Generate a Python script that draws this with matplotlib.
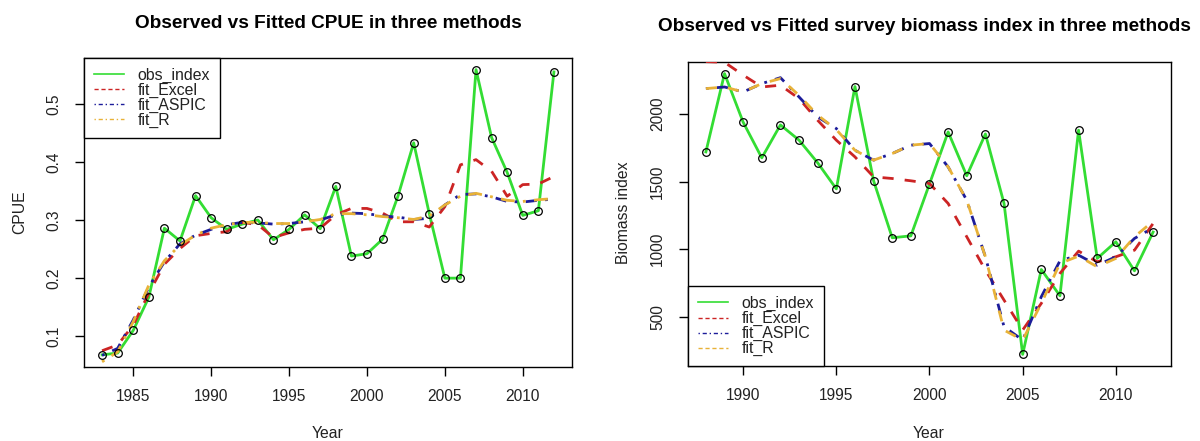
import matplotlib
matplotlib.use("Agg")
import matplotlib.pyplot as plt
from matplotlib.lines import Line2D

plt.rcParams['font.family'] = ['Liberation Sans', 'DejaVu Sans']

# ---- CPUE data (1983-2012)
cpue_years = list(range(1983, 2013))
cpue_obs = [0.068, 0.071, 0.110, 0.167, 0.286, 0.264, 0.342, 0.304, 0.284, 0.293,
            0.300, 0.266, 0.284, 0.309, 0.285, 0.358, 0.238, 0.242, 0.267, 0.342,
            0.433, 0.311, 0.200, 0.200, 0.559, 0.442, 0.382, 0.308, 0.316, 0.555]
cpue_excel = [0.075, 0.085, 0.119, 0.174, 0.224, 0.251, 0.273, 0.277, 0.280, 0.296,
              0.292, 0.270, 0.278, 0.284, 0.286, 0.309, 0.320, 0.320, 0.312, 0.297,
              0.297, 0.288, 0.323, 0.395, 0.404, 0.384, 0.341, 0.361, 0.362, 0.375]
cpue_aspic = [0.067, 0.079, 0.128, 0.185, 0.228, 0.259, 0.274, 0.284, 0.292, 0.296,
              0.295, 0.293, 0.294, 0.297, 0.300, 0.309, 0.312, 0.311, 0.307, 0.305,
              0.301, 0.303, 0.326, 0.344, 0.345, 0.340, 0.332, 0.331, 0.334, 0.336]
cpue_r = [0.056, 0.073, 0.125, 0.188, 0.230, 0.257, 0.274, 0.286, 0.292, 0.296,
          0.296, 0.294, 0.294, 0.297, 0.301, 0.311, 0.311, 0.309, 0.306, 0.304,
          0.301, 0.307, 0.326, 0.341, 0.346, 0.340, 0.334, 0.332, 0.335, 0.337]

# ---- Survey biomass index (1988-2012)
bio_years = list(range(1988, 2013))
bio_obs = [1721, 2301, 1941, 1677, 1921, 1808, 1640, 1447, 2205, 1507, 1085, 1099,
           1484, 1869, 1544, 1854, 1339, 221, 850, 655, 1882, 932, 1055, 840, 1127]
bio_excel = [2390, 2385, 2290, 2202, 2215, 2116, 1955, 1808, 1684, 1536, 1524, 1507,
             1487, 1339, 1092, 845, 623, 401, 599, 821, 986, 907, 944, 993, 1191]
bio_aspic = [2190, 2202, 2165, 2227, 2271, 2128, 1980, 1894, 1733, 1660, 1709, 1771,
             1783, 1610, 1363, 944, 426, 327, 648, 914, 956, 882, 944, 1080, 1159]
bio_r = [2190, 2202, 2165, 2227, 2264, 2140, 1993, 1886, 1733, 1660, 1709, 1771,
         1783, 1610, 1363, 944, 401, 327, 599, 895, 949, 870, 932, 1092, 1208]

labels = ["obs_index", "fit_Excel", "fit_ASPIC", "fit_R"]
GREEN = '#33dd33'
RED = '#cc2424'
BLUE = '#1c1c9a'
GOLD = '#e8b238'
TXT = '#222222'

W, H = 1200, 441
fig = plt.figure(figsize=(W / 100, H / 100), dpi=100)

def px_axes(x0, y0, x1, y1):
    return fig.add_axes([x0 / W, 1 - y1 / H, (x1 - x0) / W, (y1 - y0) / H])

ax1 = px_axes(84, 58, 572, 367)
ax2 = px_axes(688, 62, 1171, 366)

dashed = (0, (4, 4))
dotdash = (0, (1, 3, 4, 3))
lw = 2.0

def style_axes(ax):
    for s in ax.spines.values():
        s.set_color('black')
        s.set_linewidth(1.0)
    ax.tick_params(axis='both', direction='out', length=6.5, width=1.0,
                   colors='black', labelsize=11.2, labelcolor=TXT)
    ax.tick_params(axis='x', pad=9.5)
    ax.tick_params(axis='y', pad=10)
    for lab in ax.get_yticklabels():
        lab.set_rotation(90)
        lab.set_va('center')

def make_legend(ax, handles, loc, anchor):
    leg = ax.legend(handles, labels, loc=loc, bbox_to_anchor=anchor,
                    borderaxespad=0, fancybox=False, framealpha=1, edgecolor='black',
                    fontsize=11.4, handlelength=1.9, handletextpad=0.9,
                    labelspacing=0.0, borderpad=0.6)
    leg.get_frame().set_linewidth(1.0)
    for t in leg.get_texts():
        t.set_color(TXT)
    return leg

# ---- Left panel
ax1.plot(cpue_years, cpue_obs, color=GREEN, lw=lw, solid_joinstyle='round', zorder=2)
ax1.plot(cpue_years, cpue_excel, color=RED, lw=lw, linestyle=dashed, zorder=3)
ax1.plot(cpue_years, cpue_aspic, color=BLUE, lw=lw, linestyle=dotdash, zorder=4)
ax1.plot(cpue_years, cpue_r, color=GOLD, lw=lw, linestyle=(0, (1, 3, 5, 3)), zorder=5)
ax1.plot(cpue_years, cpue_obs, linestyle='none', marker='o', ms=5.5,
         mfc='none', mec='black', mew=0.9, zorder=6)
ax1.set_xlim(1981.84, 2013.16)
ax1.set_ylim(0.047, 0.579)
ax1.set_xticks([1985, 1990, 1995, 2000, 2005, 2010])
ax1.set_yticks([0.1, 0.2, 0.3, 0.4, 0.5])
ax1.set_yticklabels(['0.1', '0.2', '0.3', '0.4', '0.5'])
style_axes(ax1)

h1 = [Line2D([], [], color=GREEN, lw=1.2),
      Line2D([], [], color=RED, lw=1.0, linestyle=(0, (3, 2))),
      Line2D([], [], color=BLUE, lw=1.0, linestyle=(0, (1, 2, 3, 2))),
      Line2D([], [], color=GOLD, lw=1.0, linestyle=(0, (1, 2, 3, 2)))]
make_legend(ax1, h1, 'upper left', (0, 1))

fig.text(328 / W, 1 - 27.5 / H, "Observed vs Fitted CPUE in three methods",
         ha='center', va='baseline', fontsize=13.7, fontweight='bold', color='black')
fig.text(20 / W, 1 - 212 / H, "CPUE", rotation=90, ha='center', va='center',
         fontsize=11.3, color=TXT)
fig.text(328 / W, 1 - 434 / H, "Year", ha='center', va='center',
         fontsize=11.3, color=TXT)

# ---- Right panel
ax2.plot(bio_years, bio_obs, color=GREEN, lw=lw, solid_joinstyle='round', zorder=2)
ax2.plot(bio_years, bio_excel, color=RED, lw=lw, linestyle=dashed, zorder=3)
ax2.plot(bio_years, bio_aspic, color=BLUE, lw=lw, linestyle=dotdash, zorder=4)
ax2.plot(bio_years, bio_r, color=GOLD, lw=lw, linestyle=dashed, zorder=5)
ax2.plot(bio_years, bio_obs, linestyle='none', marker='o', ms=5.5,
         mfc='none', mec='black', mew=0.9, zorder=6)
ax2.set_xlim(1987.04, 2012.96)
ax2.set_ylim(135, 2387)
ax2.set_xticks([1990, 1995, 2000, 2005, 2010])
ax2.set_yticks([500, 1000, 1500, 2000])
style_axes(ax2)

h2 = [Line2D([], [], color=GREEN, lw=1.2),
      Line2D([], [], color=RED, lw=1.0, linestyle=(0, (3, 2))),
      Line2D([], [], color=BLUE, lw=1.0, linestyle=(0, (1, 2, 3, 2))),
      Line2D([], [], color=GOLD, lw=1.0, linestyle=(0, (3, 2)))]
make_legend(ax2, h2, 'lower left', (0, 0))

fig.text(924.5 / W, 1 - 31 / H, "Observed vs Fitted survey biomass index in three methods",
         ha='center', va='baseline', fontsize=13.7, fontweight='bold', color='black')
fig.text(624 / W, 1 - 213 / H, "Biomass index", rotation=90, ha='center', va='center',
         fontsize=11.3, color=TXT)
fig.text(929 / W, 1 - 434 / H, "Year", ha='center', va='center',
         fontsize=11.3, color=TXT)

fig.savefig("out.png", dpi=100, facecolor='white')
